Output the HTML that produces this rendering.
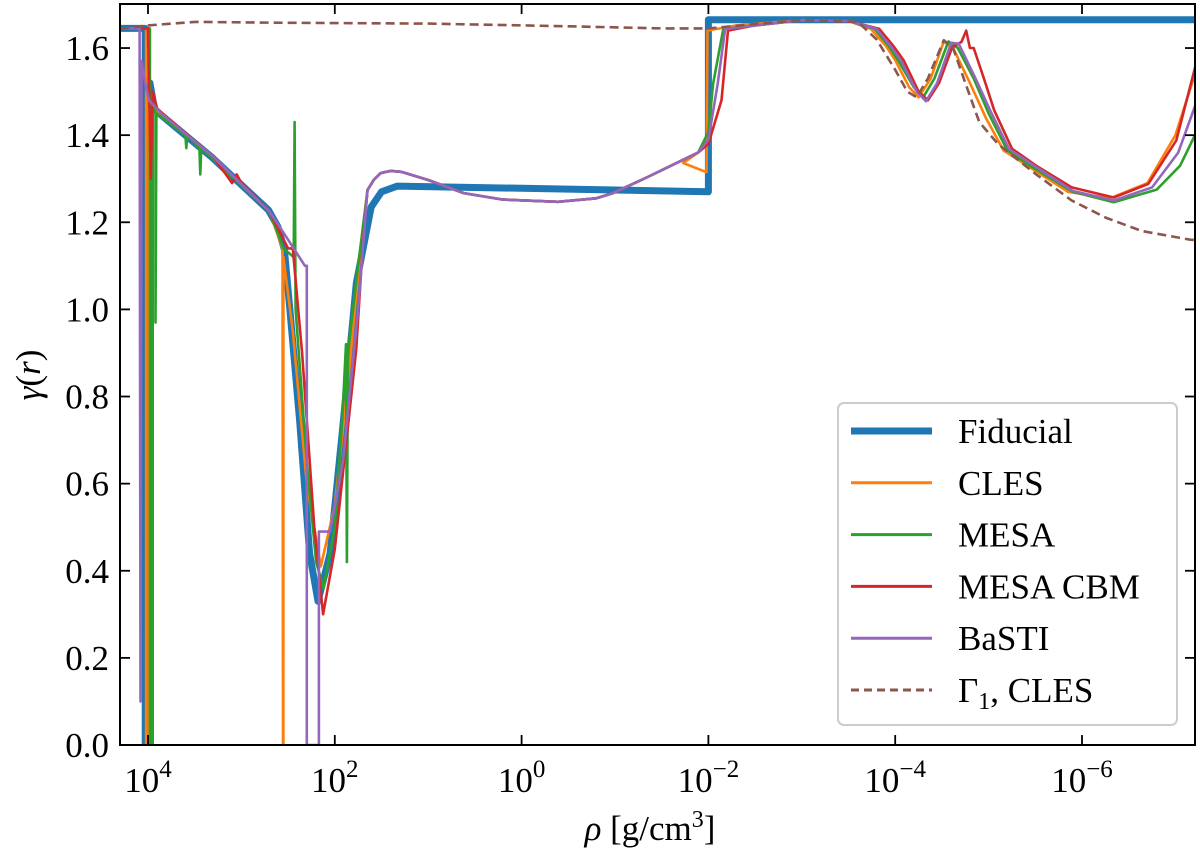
<!DOCTYPE html>
<html><head><meta charset="utf-8"><style>
html,body{margin:0;padding:0;background:#fff}
svg{display:block}
text{font-family:"Liberation Serif","DejaVu Serif",serif;fill:#000}
</style></head><body>
<svg id="chart" width="1200" height="851" viewBox="0 0 1200 851">
<defs><clipPath id="plotclip"><rect x="120" y="4" width="1075" height="741"/></clipPath></defs>
<g id="series" clip-path="url(#plotclip)"></g>
<rect x="120" y="4" width="1075" height="741" fill="none" stroke="#000" stroke-width="2"/>
<g id="ticks"></g>
<text x="650" y="840" font-size="35" text-anchor="middle"><tspan font-style="italic">ρ</tspan> [g/cm<tspan baseline-shift="super" font-size="24">3</tspan>]</text>
<text transform="translate(40,375) rotate(-90)" font-size="35" text-anchor="middle"><tspan font-style="italic">γ</tspan>(<tspan font-style="italic">r</tspan>)</text>
<g id="legend">
<rect x="838" y="403" width="339" height="322" rx="6" fill="#fff" fill-opacity="0.85" stroke="#cccccc" stroke-width="2"/>
</g>
</svg>
<script>
const xTickLogs = [4, 2, 0, -2, -4, -6];
const xTickExp = ["4", "2", "0", "−2", "−4", "−6"];
const yTicks = [0, 0.2, 0.4, 0.6, 0.8, 1.0, 1.2, 1.4, 1.6];
const yTickLabels = ["0.0","0.2","0.4","0.6","0.8","1.0","1.2","1.4","1.6"];

const sharedMidLog = [1.65, 1.58, 1.51, 1.4, 1.29, 1.0, 0.62, 0.2, -0.39, -0.8, -0.98, -1.35, -1.6, -1.89];
const sharedMidGamma = [1.274, 1.298, 1.313, 1.318, 1.316, 1.297, 1.267, 1.252, 1.247, 1.255, 1.267, 1.304, 1.33, 1.36];

const fidLog = [4.30, 4.03, 4.03, 3.98, 3.98, 3.93, 3.86, 3.32, 2.71, 2.61, 2.54, 2.48, 2.375, 2.27, 2.18, 2.05, 1.91, 1.77, 1.61, 1.50, 1.33, 0, -1.0, -2.0, -2.0, -7.3];
const fidGamma = [1.645, 1.645, 0, 0, 1.52, 1.46, 1.446, 1.35, 1.228, 1.19, 1.137, 0.996, 0.74, 0.44, 0.33, 0.44, 0.74, 1.06, 1.235, 1.27, 1.283, 1.278, 1.274, 1.27, 1.665, 1.665];

const clesLog = [4.30, 4.02, 4.02, 3.99, 3.99, 3.93, 3.3, 2.7, 2.56, 2.555, 2.55, 2.55, 2.45, 2.3, 2.15, 2.0, 1.85, 1.72].concat(sharedMidLog, [-1.73, -1.98, -1.99, -2.3, -3.0, -3.5, -3.74, -3.9, -4.0, -4.15, -4.25, -4.38, -4.52, -4.62, -4.8, -4.97, -5.16, -5.45, -5.85, -6.3, -6.7, -7.0, -7.3]);
const clesGamma = [1.645, 1.645, 0, 0, 1.5, 1.46, 1.35, 1.225, 1.14, 0, 0, 1.12, 0.95, 0.6, 0.41, 0.55, 0.85, 1.15].concat(sharedMidGamma, [1.336, 1.315, 1.64, 1.652, 1.664, 1.662, 1.644, 1.605, 1.572, 1.51, 1.487, 1.53, 1.615, 1.60, 1.52, 1.44, 1.365, 1.325, 1.27, 1.255, 1.29, 1.40, 1.60]);

const mesaLog = [4.30, 3.98, 3.98, 3.95, 3.95, 3.92, 3.92, 3.91, 3.6, 3.59, 3.58, 3.45, 3.44, 3.43, 2.7, 2.55, 2.44, 2.43, 2.42, 2.3, 2.2, 2.12, 2.0, 1.92, 1.88, 1.87, 1.86, 1.75].concat(sharedMidLog, [-2.0, -2.05, -2.16, -2.5, -3.0, -3.5, -3.78, -3.93, -4.03, -4.2, -4.30, -4.42, -4.57, -4.67, -4.84, -5.0, -5.2, -5.48, -5.9, -6.34, -6.8, -7.05, -7.3]);
const mesaGamma = [1.645, 1.645, 0, 0, 1.5, 1.45, 0.97, 1.45, 1.4, 1.37, 1.4, 1.37, 1.31, 1.37, 1.225, 1.14, 1.12, 1.43, 1.0, 0.65, 0.42, 0.36, 0.5, 0.75, 0.92, 0.42, 0.9, 1.1].concat(sharedMidGamma, [1.407, 1.518, 1.644, 1.652, 1.664, 1.662, 1.644, 1.605, 1.572, 1.51, 1.487, 1.53, 1.615, 1.60, 1.53, 1.45, 1.365, 1.325, 1.27, 1.246, 1.275, 1.33, 1.44]);

const cbmLog = [4.30, 4.0, 3.97, 3.95, 3.9, 3.3, 3.1, 3.05, 3.0, 2.7, 2.5, 2.45, 2.35, 2.22, 2.125, 2.0, 1.77, 1.70].concat(sharedMidLog, [-2.0, -2.14, -2.21, -2.5, -3.0, -3.5, -3.83, -3.98, -4.09, -4.25, -4.35, -4.47, -4.61, -4.71, -4.76, -4.80, -4.84, -4.95, -5.06, -5.25, -5.51, -5.89, -6.34, -6.71, -7.01, -7.3]);
const cbmGamma = [1.645, 1.645, 1.3, 1.5, 1.46, 1.35, 1.29, 1.31, 1.29, 1.225, 1.14, 1.14, 0.9, 0.5, 0.30, 0.45, 0.91, 1.15].concat(sharedMidGamma, [1.38, 1.48, 1.64, 1.652, 1.664, 1.662, 1.644, 1.605, 1.572, 1.50, 1.48, 1.52, 1.602, 1.614, 1.64, 1.60, 1.60, 1.53, 1.457, 1.369, 1.33, 1.28, 1.257, 1.288, 1.388, 1.63]);

const bastiLog = [4.30, 4.09, 4.08, 4.07, 4.03, 3.99, 3.86, 3.3, 2.7, 2.5, 2.32, 2.30, 2.30, 2.17, 2.17, 2.05, 1.91, 1.75, 1.66].concat(sharedMidLog, [-2.0, -2.1, -2.18, -2.5, -3.0, -3.5, -3.80, -3.95, -4.06, -4.23, -4.33, -4.45, -4.6, -4.68, -4.86, -5.02, -5.22, -5.5, -5.9, -6.34, -6.75, -7.03, -7.3]);
const bastiGamma = [1.645, 1.645, 0.1, 1.57, 1.52, 1.48, 1.45, 1.35, 1.225, 1.16, 1.10, 1.10, 0, 0, 0.49, 0.49, 0.655, 1.0, 1.25].concat(sharedMidGamma, [1.39, 1.518, 1.644, 1.652, 1.664, 1.662, 1.644, 1.605, 1.572, 1.50, 1.478, 1.52, 1.612, 1.61, 1.53, 1.455, 1.368, 1.328, 1.272, 1.25, 1.28, 1.36, 1.52]);

const g1Log = [4.30, 4.0, 3.5, 2.5, 1.0, -0.5, -1.5, -2.0, -2.5, -3.0, -3.6, -3.8, -4.0, -4.13, -4.23, -4.35, -4.52, -4.62, -4.75, -4.9, -5.1, -5.51, -5.89, -6.26, -6.64, -7.16, -7.3];
const g1Gamma = [1.644, 1.652, 1.66, 1.658, 1.656, 1.65, 1.645, 1.645, 1.655, 1.664, 1.66, 1.62, 1.55, 1.50, 1.487, 1.53, 1.618, 1.60, 1.52, 1.43, 1.38, 1.31, 1.25, 1.21, 1.18, 1.16, 1.158];

const legendLabels = ["Fiducial", "CLES", "MESA", "MESA CBM", "BaSTI"];
</script>
<script>
const NS = "http://www.w3.org/2000/svg";
function xs(l){ return 148 + (4 - l) * 93.4; }
function ys(g){ return 745 - g * 435.6; }
function mk(tag, attrs, parent){ const e = document.createElementNS(NS, tag); for (const k in attrs) e.setAttribute(k, attrs[k]); parent.appendChild(e); return e; }

const seriesG = document.getElementById('series');
const defs = [
  {n:'fiducial-line', L:fidLog, G:fidGamma, c:'#1f77b4', w:7, d:null},
  {n:'cles-line', L:clesLog, G:clesGamma, c:'#ff7f0e', w:2.6, d:null},
  {n:'mesa-line', L:mesaLog, G:mesaGamma, c:'#2ca02c', w:2.6, d:null},
  {n:'mesa-cbm-line', L:cbmLog, G:cbmGamma, c:'#d62728', w:2.6, d:null},
  {n:'basti-line', L:bastiLog, G:bastiGamma, c:'#9467bd', w:2.6, d:null},
  {n:'gamma1-cles-line', L:g1Log, G:g1Gamma, c:'#8c564b', w:2.6, d:'9,5'}
];
defs.forEach(s => {
  const pts = s.L.map((l, i) => xs(l).toFixed(1) + ',' + ys(s.G[i]).toFixed(1)).join(' ');
  const p = mk('polyline', {points: pts, fill: 'none', stroke: s.c, 'stroke-width': s.w, 'stroke-linejoin': 'round'}, seriesG);
  if (s.d) p.setAttribute('stroke-dasharray', s.d);
  
  
});

const tg = document.getElementById('ticks');
xTickLogs.forEach((l, i) => {
  const x = xs(l);
  const t1 = mk('line', {x1:x, x2:x, y1:745, y2:735, stroke:'#000', 'stroke-width':1.8}, tg);
  
  
  const t2 = mk('line', {x1:x, x2:x, y1:4, y2:14, stroke:'#000', 'stroke-width':1.8}, tg);
  
  
  const tx = mk('text', {x:x, y:792, 'font-size':35, 'text-anchor':'middle'}, tg);
  
  
  const a = document.createElementNS(NS, 'tspan'); a.textContent = '10'; tx.appendChild(a);
  const b = document.createElementNS(NS, 'tspan'); b.textContent = xTickExp[i];
  b.setAttribute('dy', '-15'); b.setAttribute('font-size', '25'); tx.appendChild(b);
});
yTicks.forEach((g, i) => {
  const y = ys(g);
  const t1 = mk('line', {x1:120, x2:130, y1:y, y2:y, stroke:'#000', 'stroke-width':1.8}, tg);
  
  
  const t2 = mk('line', {x1:1185, x2:1195, y1:y, y2:y, stroke:'#000', 'stroke-width':1.8}, tg);
  
  
  const tx = mk('text', {x:109, y:y + 12, 'font-size':35, 'text-anchor':'end'}, tg);
  tx.textContent = yTickLabels[i];
  
  
});

const lg = document.getElementById('legend');
defs.forEach((s, i) => {
  const y = 431 + i * 51.8;
  const ln = mk('line', {x1:851, x2:932, y1:y, y2:y, stroke:s.c, 'stroke-width': s.w === 7 ? 7 : 3}, lg);
  if (s.d) ln.setAttribute('stroke-dasharray', '8,5');
  
  
  const tx = mk('text', {x:958, y:y + 12, 'font-size':35}, lg);
  
  
  if (i < 5) { tx.textContent = legendLabels[i]; }
  else {
    const a = document.createElementNS(NS, 'tspan'); a.textContent = 'Γ'; tx.appendChild(a);
    const b = document.createElementNS(NS, 'tspan'); b.textContent = '1'; b.setAttribute('dy', '7'); b.setAttribute('font-size', '24'); tx.appendChild(b);
    const c = document.createElementNS(NS, 'tspan'); c.textContent = ', CLES'; c.setAttribute('dy', '-7'); tx.appendChild(c);
  }
});
</script>
</body></html>
